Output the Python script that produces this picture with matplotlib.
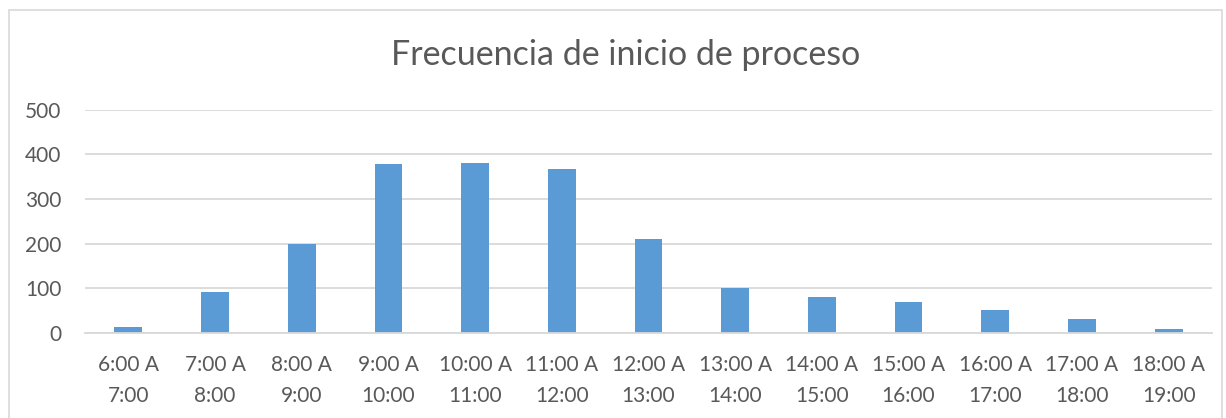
import matplotlib
matplotlib.use('Agg')
import matplotlib.pyplot as plt
import matplotlib.patches as patches

plt.rcParams['font.family'] = ['Lato', 'DejaVu Sans']

horas = ['6:00 A\n7:00', '7:00 A\n8:00', '8:00 A\n9:00', '9:00 A\n10:00',
         '10:00 A\n11:00', '11:00 A\n12:00', '12:00 A\n13:00', '13:00 A\n14:00',
         '14:00 A\n15:00', '15:00 A\n16:00', '16:00 A\n17:00', '17:00 A\n18:00',
         '18:00 A\n19:00']
frecuencia = [14, 92, 199, 378, 381, 366, 211, 101, 80, 69, 51, 31, 10]
yticks = [0, 100, 200, 300, 400, 500]

gris = '#595959'

fig = plt.figure(figsize=(12.26, 4.18), dpi=100)
ax = fig.add_axes([85/1226, 85/418, (1212-85)/1226, (333-109.5)/418])

x = range(len(horas))
ax.bar(x, frecuencia, width=0.32, color='#5B9BD5', zorder=3)

ax.set_xlim(-0.5, len(horas) - 0.5)
ax.set_ylim(0, 500)
ax.set_yticks(yticks)
ax.set_xticks(list(x))
ax.set_xticklabels(horas, linespacing=1.7)

ax.grid(axis='y', color='#D9D9D9', linewidth=1.3, zorder=0)
for s in ['top', 'right', 'left']:
    ax.spines[s].set_visible(False)
ax.spines['bottom'].set_color('#D9D9D9')
ax.spines['bottom'].set_linewidth(1.3)
ax.spines['bottom'].set_zorder(4)

ax.tick_params(axis='both', length=0, labelsize=15, colors=gris)
ax.tick_params(axis='y', pad=17)
ax.tick_params(axis='x', pad=16)

fig.text(0.51, 1 - 55/418, 'Frecuencia de inicio de proceso', ha='center', va='center',
         fontsize=24.5, color=gris)

borde = patches.Rectangle((9/1226, -0.1), (1222-9)/1226, 1.1 - 10/418,
                          transform=fig.transFigure, fill=False,
                          edgecolor='#D9D9D9', linewidth=1.2)
fig.patches.append(borde)

fig.savefig('out.png', dpi=100)
